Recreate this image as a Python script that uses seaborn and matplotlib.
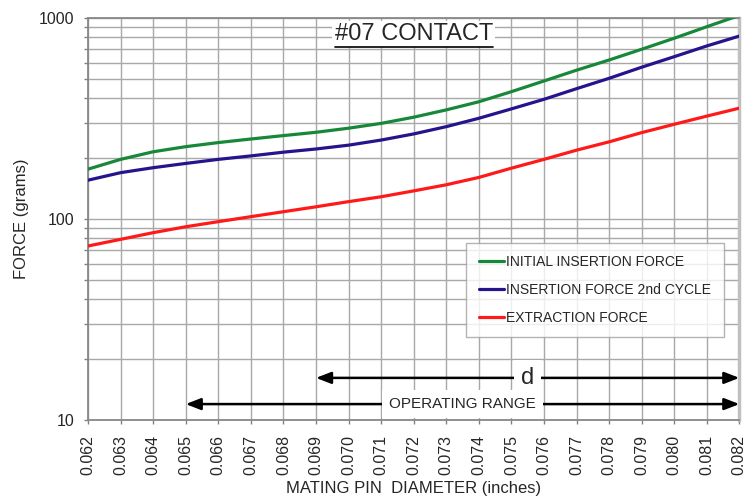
import pandas as pd
import seaborn as sns
import matplotlib.pyplot as plt
from matplotlib.lines import Line2D
from matplotlib.ticker import FixedLocator, FixedFormatter, NullFormatter, LogLocator

# Mating pin diameter (inches)
diameter = [0.062, 0.063, 0.064, 0.065, 0.066, 0.067, 0.068, 0.069, 0.070, 0.071, 0.072,
            0.073, 0.074, 0.075, 0.076, 0.077, 0.078, 0.079, 0.080, 0.081, 0.082]

# Force values (grams)
initial_insertion = [177, 198, 216, 229, 240, 250, 260, 270, 283, 299, 321,
                     349, 383, 430, 486, 550, 618, 699, 793, 905, 1030]
insertion_2nd = [156, 170, 180, 189, 198, 206, 215, 223, 233, 247, 265,
                 288, 317, 353, 394, 445, 501, 569, 642, 726, 813]
extraction = [73.4, 79.2, 85.5, 91.5, 97, 102.7, 108.7, 115, 122, 129, 138,
              148, 161, 179, 198, 220, 242, 269, 296, 325, 356]

series_names = ['INITIAL INSERTION FORCE', 'INSERTION FORCE 2nd CYCLE', 'EXTRACTION FORCE']
series_colors = ['#17883a', '#25158c', '#ff1a1a']

x_ticks = diameter
y_ticks = [10, 100, 1000]

d_range = [0.069, 0.082]
operating_range = [0.065, 0.082]

# Build long table for seaborn
df = pd.DataFrame({
    'diameter': diameter * 3,
    'force': initial_insertion + insertion_2nd + extraction,
    'series': [series_names[0]] * len(diameter) + [series_names[1]] * len(diameter)
              + [series_names[2]] * len(diameter),
})

sns.set_style('white')
plt.rcParams['font.family'] = ['Liberation Sans', 'DejaVu Sans']

fig, ax = plt.subplots(figsize=(7.56, 5), dpi=100)
fig.subplots_adjust(left=0.1164, right=0.978, top=0.964, bottom=0.16)

sns.lineplot(data=df, x='diameter', y='force', hue='series', hue_order=series_names,
             palette=series_colors, linewidth=2.3, ax=ax, legend=False, zorder=3)

ax.set_yscale('log')
ax.set_xlim(diameter[0], diameter[-1])
ax.set_ylim(10, 1000)

# grid
ax.xaxis.set_major_locator(FixedLocator(x_ticks))
ax.xaxis.set_major_formatter(FixedFormatter(['%.3f' % v for v in x_ticks]))
ax.yaxis.set_major_locator(FixedLocator(y_ticks))
ax.yaxis.set_major_formatter(FixedFormatter([str(v) for v in y_ticks]))
ax.yaxis.set_minor_locator(LogLocator(base=10, subs=range(2, 10)))
ax.yaxis.set_minor_formatter(NullFormatter())
ax.grid(True, which='major', axis='both', color='#a8a8a8', linewidth=1.0)
ax.grid(True, which='minor', axis='y', color='#a8a8a8', linewidth=1.0)
ax.set_axisbelow(True)

ax.tick_params(axis='x', which='major', direction='out', length=3, width=1,
               color='#808080', labelsize=11.5, rotation=90, pad=8, bottom=True)
ax.tick_params(axis='y', which='both', direction='out', length=3, width=1,
               color='#808080', left=True)
ax.tick_params(axis='y', which='major', labelsize=11.5, pad=7)

for side in ['left', 'bottom', 'top']:
    ax.spines[side].set_color('#888888')
    ax.spines[side].set_linewidth(1.3)
ax.spines['right'].set_color('#c0c0c0')
ax.spines['right'].set_linewidth(2.5)

ax.set_xlabel('MATING PIN  DIAMETER (inches)', fontsize=12, labelpad=4)
ax.set_ylabel('FORCE (grams)', fontsize=12, labelpad=7)

# title inside the plot (underlined below)
title = ax.text(0.072, 830, '#07 CONTACT', fontsize=17, ha='center',
                va='center', zorder=5,
                bbox=dict(facecolor='white', edgecolor='none', pad=1.5))

# legend
handles = [Line2D([], [], color=c, linewidth=2.3) for c in series_colors]
leg = ax.legend(handles, series_names, loc='upper left', bbox_to_anchor=(0.581, 0.441),
                fontsize=10, frameon=True, fancybox=False, edgecolor='#a0a0a0',
                handlelength=1.8, handletextpad=0.15, labelspacing=1.0,
                borderpad=0.9, borderaxespad=0)
leg.get_frame().set_linewidth(1.0)

# range arrows
arrow_style = dict(arrowstyle='<|-|>,head_length=0.9,head_width=0.35', color='black',
                   linewidth=1.8, shrinkA=0, shrinkB=0)
ax.annotate('', xy=(d_range[0], 16.2), xytext=(d_range[1], 16.2),
            arrowprops=arrow_style, zorder=4)
ax.text(sum(d_range) / 2, 16.2, 'd', fontsize=17, ha='center', va='center', zorder=5,
        bbox=dict(facecolor='white', edgecolor='none', pad=5.0))
ax.annotate('', xy=(operating_range[0], 12.0), xytext=(operating_range[1], 12.0),
            arrowprops=arrow_style, zorder=4)
ax.text(sum(operating_range) / 2, 12.0, 'OPERATING RANGE', fontsize=11, ha='center',
        va='center', zorder=5,
        bbox=dict(facecolor='white', edgecolor='none', pad=5.0))

# underline the title
fig.canvas.draw()
bb = title.get_window_extent().transformed(fig.transFigure.inverted())
fig.add_artist(Line2D([bb.x0, bb.x1], [bb.y0 - 0.004, bb.y0 - 0.004],
                      color='black', linewidth=1.2, zorder=6))

fig.savefig('out.png', dpi=100)
